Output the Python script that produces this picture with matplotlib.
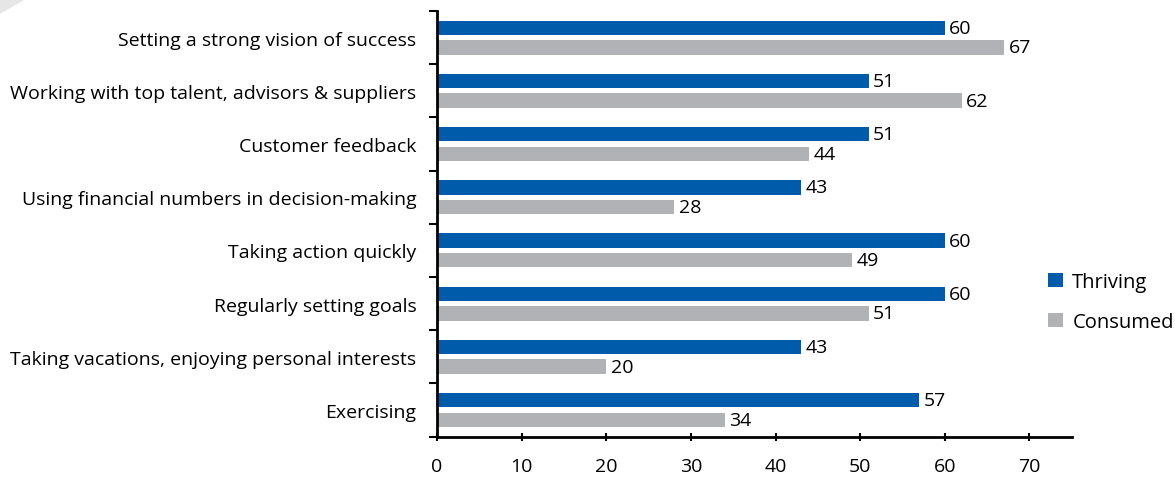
import numpy as np
import matplotlib
matplotlib.use("Agg")
import matplotlib.pyplot as plt
from matplotlib.patches import Polygon, Patch

plt.rcParams.update({
    "font.family": ["Open Sans", "DejaVu Sans"],
    "font.size": 14,
})

categories = [
    "Setting a strong vision of success",
    "Working with top talent, advisors & suppliers",
    "Customer feedback",
    "Using financial numbers in decision-making",
    "Taking action quickly",
    "Regularly setting goals",
    "Taking vacations, enjoying personal interests",
    "Exercising",
]
thriving = [60, 51, 51, 43, 60, 60, 43, 57]
consumed = [67, 62, 44, 28, 49, 51, 20, 34]
x_ticks = [0, 10, 20, 30, 40, 50, 60, 70]

blue = "#005baa"
grey = "#b1b2b6"

fig = plt.figure(figsize=(11.75, 4.81), dpi=100)
ax = fig.add_axes([0.372, 0.0904, 0.540, 0.8846])

# light corner shape in the top-left
fig.patches.append(Polygon([[0, 1], [26 / 1175, 1], [5 / 1175, 1 - 12 / 481], [0, 1 - 15 / 481]],
                           closed=True, transform=fig.transFigure, facecolor="#e6e6e6",
                           edgecolor="none"))

y = np.arange(len(categories))
h = 0.27
off = 0.185
ax.barh(y - off, thriving, height=h, color=blue)
ax.barh(y + off, consumed, height=h, color=grey)

for yi, t, c in zip(y, thriving, consumed):
    ax.text(t + 0.55, yi - off, str(t), va="center", ha="left")
    ax.text(c + 0.55, yi + off, str(c), va="center", ha="left")

ax.set_ylim(len(categories) - 0.5, -0.5)
ax.set_xlim(0, 75)

ax.set_yticks(y)
ax.set_yticklabels(categories)
ax.set_yticks(np.arange(-0.5, len(categories)), minor=True)
ax.tick_params(axis="y", which="major", length=0, pad=15)
ax.tick_params(axis="y", which="minor", length=6, width=1.5, direction="out")

ax.set_xticks(x_ticks)
ax.tick_params(axis="x", length=6, width=1.5, direction="inout", pad=12)

for s in ["top", "right"]:
    ax.spines[s].set_visible(False)
for s in ["left", "bottom"]:
    ax.spines[s].set_linewidth(2)

handles = [Patch(facecolor=blue, label="Thriving"), Patch(facecolor=grey, label="Consumed")]
fig.legend(handles=handles, loc="center left", bbox_to_anchor=(1030 / 1175, 1 - 303 / 481),
           frameon=False, handlelength=0.75, handleheight=0.75, handletextpad=0.45,
           labelspacing=1.0, fontsize=14.5)

fig.savefig("out.png", dpi=100)
